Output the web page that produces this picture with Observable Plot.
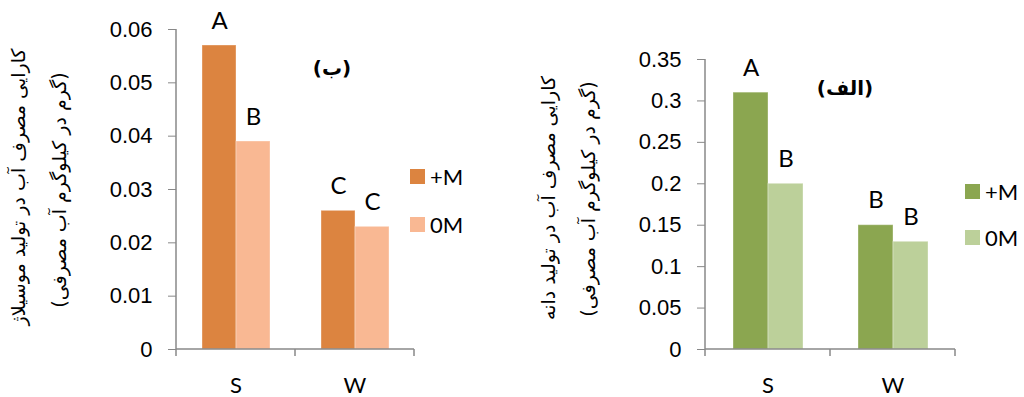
<!DOCTYPE html>
<html>
<head>
<meta charset="utf-8">
<script src="https://cdn.jsdelivr.net/npm/d3@7"></script>
<script src="https://cdn.jsdelivr.net/npm/@observablehq/plot@0.6"></script>
<style>
  body { margin: 0; background: #fff; }
  #wrap { position: relative; width: 1024px; height: 397px; overflow: hidden; background: #fff; }
  .panel { position: absolute; top: 0; width: 512px; height: 397px; }
  .ylab { position: absolute; font-family: "DejaVu Sans", sans-serif; font-size: 19px; white-space: nowrap;
          transform: translate(-50%, -50%) rotate(-90deg); color: #000; direction: rtl; }
  .ptitle { position: absolute; font-family: "DejaVu Sans", sans-serif; font-weight: bold; font-size: 20px;
            transform: translate(-50%, -50%); white-space: nowrap; color: #000; }
  .sw { position: absolute; width: 15px; height: 15px; }
  .lt { position: absolute; font-family: Lato, "Open Sans", sans-serif; font-size: 22px; transform: translateY(-50%); color: #000; white-space: nowrap; }
</style>
</head>
<body>
<div id="wrap"></div>
<script>
// ---- data ----
const categories = ["S", "W"];
const seriesNames = ["+M", "0M"];

// (ب) mucilage water-use efficiency
const mucilagePlusM = [0.057, 0.026];
const mucilageZeroM = [0.039, 0.023];
const mucilageLettersPlusM = ["A", "C"];
const mucilageLettersZeroM = ["B", "C"];
const mucilageTicks = [0, 0.01, 0.02, 0.03, 0.04, 0.05, 0.06];

// (الف) grain water-use efficiency
const grainPlusM = [0.31, 0.15];
const grainZeroM = [0.20, 0.13];
const grainLettersPlusM = ["A", "B"];
const grainLettersZeroM = ["B", "B"];
const grainTicks = [0, 0.05, 0.1, 0.15, 0.2, 0.25, 0.3, 0.35];

const mucilageColors = ["#DC8440", "#F9B893"];
const grainColors = ["#8BA650", "#BCD09A"];

const mucilageTitle = "(ب)";
const grainTitle = "(الف)";
const mucilageYLabel = ["کارایی مصرف آب در تولید موسیلاژ", "(گرم در کیلوگرم آب مصرفی)"];
const grainYLabel = ["کارایی مصرف آب در تولید دانه", "(گرم در کیلوگرم آب مصرفی)"];

const axisGray = "#888888";
const wrap = document.getElementById("wrap");

function buildRows(plus, zero, lp, lz) {
  const rows = [];
  categories.forEach((c, i) => {
    rows.push({category: c, series: seriesNames[0], value: plus[i], letter: lp[i]});
    rows.push({category: c, series: seriesNames[1], value: zero[i], letter: lz[i]});
  });
  return rows;
}

function drawChart(cfg) {
  const data = buildRows(cfg.plus, cfg.zero, cfg.lp, cfg.lz);
  const ticks = cfg.ticks;
  const plot = Plot.plot({
    width: 512,
    height: 397,
    marginLeft: cfg.marginLeft,
    marginRight: cfg.marginRight,
    marginTop: cfg.marginTop,
    marginBottom: 48,
    style: {background: "transparent", overflow: "visible"},
    fx: {domain: categories, padding: 0, label: null},
    x: {domain: seriesNames, paddingInner: 0, paddingOuter: 0.75, axis: null},
    y: {domain: [0, ticks[ticks.length - 1]]},
    color: {domain: seriesNames, range: cfg.colors},
    marks: [
      Plot.axisY({ticks: ticks, tickFormat: d => String(+d.toFixed(2)), tickSize: 8, tickPadding: 16,
                  stroke: axisGray, fill: "#000", fontSize: 22, fontFamily: "Liberation Sans, Arial, sans-serif", label: null}),
      Plot.axisFx({anchor: "bottom", tickSize: 0, tickPadding: 28, fontSize: 22,
                   fontFamily: "Lato, 'Open Sans', sans-serif", fill: "#000", label: null}),
      Plot.barY(data, {fx: "category", x: "series", y: "value", fill: "series", stroke: "#ffffff", strokeOpacity: 0.35, strokeWidth: 1}),
      Plot.text(data, {fx: "category", x: "series", y: "value", text: "letter", dy: -17, lineAnchor: "bottom",
                       fontSize: 24, fontFamily: "'Liberation Sans Narrow', Lato, sans-serif", fill: "#000"})
    ]
  });
  // axis lines and boundary ticks, positioned by the plot's own scales
  const svg = d3.select(plot);
  const fx = plot.scale("fx");
  const y = plot.scale("y");
  const xStart = fx.apply(categories[0]);
  const xEnd = fx.apply(categories[categories.length - 1]) + fx.bandwidth;
  const y0 = y.apply(0);
  const yTop = y.apply(ticks[ticks.length - 1]);
  const g = svg.append("g").attr("stroke", axisGray).attr("stroke-width", 1.5);
  g.append("line").attr("x1", xStart).attr("x2", xStart).attr("y1", yTop).attr("y2", y0);
  g.append("line").attr("x1", xStart).attr("x2", xEnd).attr("y1", y0).attr("y2", y0);
  const bounds = categories.map(c => fx.apply(c)).concat([xEnd]);
  bounds.forEach(b => g.append("line").attr("x1", b).attr("x2", b).attr("y1", y0).attr("y2", y0 + 7));

  const panel = document.createElement("div");
  panel.className = "panel";
  panel.style.left = cfg.left + "px";
  panel.appendChild(plot);
  wrap.appendChild(panel);
}

function addYLabel(lines, positions) {
  lines.forEach((t, i) => {
    const d = document.createElement("div");
    d.className = "ylab";
    d.textContent = t;
    d.style.left = positions[i][0] + "px";
    d.style.top = positions[i][1] + "px";
    wrap.appendChild(d);
  });
}
function addTitle(t, x, y) {
  const d = document.createElement("div");
  d.className = "ptitle";
  d.textContent = t;
  d.style.left = x + "px";
  d.style.top = y + "px";
  wrap.appendChild(d);
}
function addLegend(colors, x, tops) {
  seriesNames.forEach((s, i) => {
    const sw = document.createElement("div");
    sw.className = "sw";
    sw.style.left = x + "px";
    sw.style.top = tops[i] + "px";
    sw.style.background = colors[i];
    wrap.appendChild(sw);
    const t = document.createElement("div");
    t.className = "lt";
    t.textContent = s;
    t.style.left = (x + 20) + "px";
    t.style.top = (tops[i] + 7) + "px";
    wrap.appendChild(t);
  });
}

drawChart({left: 0, plus: mucilagePlusM, zero: mucilageZeroM, lp: mucilageLettersPlusM, lz: mucilageLettersZeroM,
           ticks: mucilageTicks, colors: mucilageColors, marginLeft: 175, marginRight: 98, marginTop: 29});
drawChart({left: 512, plus: grainPlusM, zero: grainZeroM, lp: grainLettersPlusM, lz: grainLettersZeroM,
           ticks: grainTicks, colors: grainColors, marginLeft: 193, marginRight: 69, marginTop: 59});

addYLabel(mucilageYLabel, [[18, 187], [59, 190]]);
addYLabel(grainYLabel, [[548, 198], [588, 199]]);
addTitle(mucilageTitle, 332, 68);
addTitle(grainTitle, 845, 88);
addLegend(mucilageColors, 410, [169, 217]);
addLegend(grainColors, 965, [184, 230]);
</script>
</body>
</html>
